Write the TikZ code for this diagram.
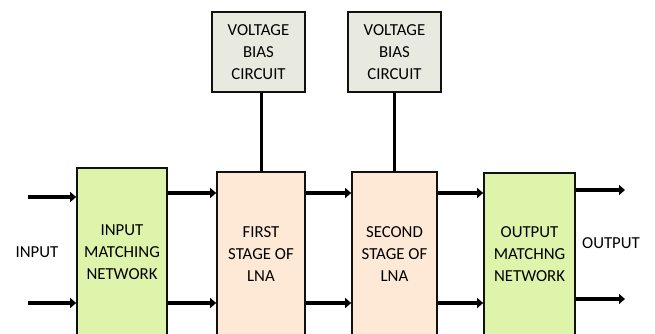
\documentclass[tikz,border=0pt]{standalone}
\usepackage{fontspec}
\setmainfont{Carlito}
\usetikzlibrary{arrows.meta}
\definecolor{boxgreen}{HTML}{DDF4AA}
\definecolor{boxpeach}{HTML}{FDE9D5}
\definecolor{boxgray}{HTML}{E9EADF}
\definecolor{edge}{HTML}{111111}
\begin{document}
\begin{tikzpicture}[x=1bp,y=-1bp,
  blk/.style={draw=edge,line width=1.7bp,rectangle,inner sep=0pt,align=center,
    font=\fontsize{16.8bp}{22bp}\selectfont,text=black},
  lbl/.style={inner sep=0pt,font=\fontsize{16.8bp}{22bp}\selectfont,text=black},
  arr/.style={line width=3.8bp,-{Triangle[length=6bp,width=10bp]},black},
  biasline/.style={line width=3bp,black}]
\useasboundingbox (0,0) rectangle (655,333);
\clip (0,0) rectangle (655,333);
% bias circuits
\node[blk,fill=boxgray,minimum width=93bp,minimum height=80bp] (b1) at (258.5,52) {VOLTAGE\\BIAS\\CIRCUIT};
\node[blk,fill=boxgray,minimum width=93bp,minimum height=80bp] (b2) at (394.5,52) {VOLTAGE\\BIAS\\CIRCUIT};
% main chain
\node[blk,fill=boxgreen,minimum width=90bp,minimum height=168bp] (imn) at (122,252) {INPUT\\MATCHING\\NETWORK};
\node[blk,fill=boxpeach,minimum width=88bp,minimum height=165bp] (fs) at (261,254.5) {FIRST\\STAGE OF\\LNA};
\node[blk,fill=boxpeach,minimum width=85bp,minimum height=165bp] (ss) at (394.5,254.5) {SECOND\\STAGE OF\\LNA};
\node[blk,fill=boxgreen,minimum width=91bp,minimum height=162bp] (omn) at (529.5,254) {OUTPUT\\MATCHNG\\NETWORK};
% labels
\node[lbl] (inlbl) at (37,252) {INPUT};
\node[lbl] (outlbl) at (611,243) {OUTPUT};
% coordinates
\coordinate (in1) at (28,197);
\coordinate (in2) at (28,303);
\coordinate (ya) at (0,193);
\coordinate (yb) at (0,303);
\coordinate (out1) at (625,190);
\coordinate (out2) at (625,299);
% arrows
\draw[arr] (in1) -- (imn.west |- in1);
\draw[arr] (in2) -- (imn.west |- in2);
\draw[arr] (imn.east |- ya) -- (fs.west |- ya);
\draw[arr] (imn.east |- yb) -- (fs.west |- yb);
\draw[arr] (fs.east |- ya) -- (ss.west |- ya);
\draw[arr] (fs.east |- yb) -- (ss.west |- yb);
\draw[arr] (ss.east |- ya) -- (omn.west |- ya);
\draw[arr] (ss.east |- yb) -- (omn.west |- yb);
\draw[arr] (omn.east |- out1) -- (out1);
\draw[arr] (omn.east |- out2) -- (out2);
% bias lines
\draw[biasline] (b1.south -| fs.north) -- (fs.north);
\draw[biasline] (b2.south -| ss.north) -- (ss.north);
\end{tikzpicture}
\end{document}
